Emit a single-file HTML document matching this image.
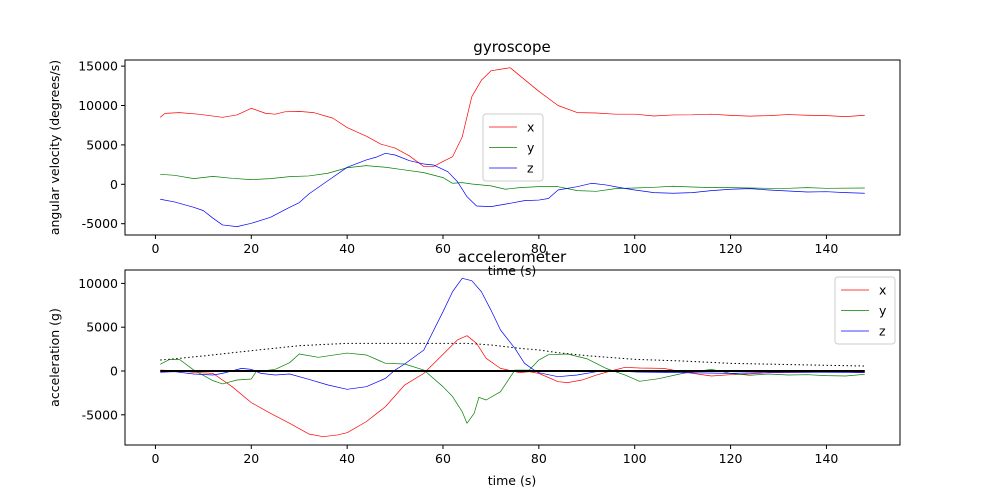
<!DOCTYPE html>
<html><head><meta charset="utf-8"><style>
body{margin:0;background:#fff;}
svg{display:block;font-family:"DejaVu Sans","Liberation Sans",sans-serif;}
</style></head><body>
<svg id="c" width="1000" height="500"></svg>
<script>
const gyroT=[1,2,5,9,14,17,20,23,25,27,30,33,37,40,44,47,50,53,56,58,60,62,64,66,68,70,72,74,76,80,84,88,92,96,100,104,108,112,116,120,124,128,132,136,140,144,148];
const gyroX=[8500,9000,9100,8900,8500,8800,9650,9000,8900,9200,9250,9100,8400,7200,6100,5100,4600,3600,2250,2250,2900,3500,6000,11100,13200,14400,14600,14800,13800,11800,10000,9100,9050,8900,8900,8670,8800,8820,8900,8750,8650,8720,8850,8760,8720,8590,8760];
const gyroYT=[1,4,8,12,16,20,24,28,32,36,40,44,48,52,56,60,62,64,66,70,73,76,80,84,88,92,96,100,104,108,112,116,120,124,128,132,136,140,148];
const gyroY=[1270,1140,720,1010,760,590,720,970,1060,1400,2100,2370,2160,1820,1480,850,130,210,40,-200,-630,-420,-300,-300,-800,-890,-550,-470,-380,-250,-340,-420,-420,-470,-510,-510,-420,-510,-470];
const gyroZT=[1,4,8,10,12,14,17,20,24,28,30,32,36,40,44,46,48,50,53,56,58,61,63,65,67,70,74,77,80,82,84,88,91,94,97,100,104,108,112,116,120,124,128,132,136,140,144,148];
const gyroZ=[-1900,-2240,-2920,-3340,-4300,-5160,-5370,-4950,-4190,-2920,-2330,-1230,470,2160,3090,3430,3930,3720,3000,2580,2450,1600,340,-1570,-2750,-2830,-2410,-2070,-2000,-1800,-720,-300,130,-80,-420,-720,-1060,-1140,-1060,-800,-630,-550,-720,-850,-980,-940,-1060,-1140];
const accXT=[1,4,8,12,16,20,24,28,32,35,38,40,44,48,52,56,60,63,65,67,69,72,76,78,80,84,86,89,92,95,98,101,106,110,116,120,124,128,136,144,148];
const accX=[110,40,-150,-270,-1790,-3610,-4830,-5970,-7190,-7500,-7300,-7040,-5780,-4070,-1600,-270,1900,3540,4030,3160,1450,300,-190,-80,-270,-1220,-1330,-1030,-460,0,420,340,300,-100,-570,-420,-340,-190,-150,-80,-190];
const accYT=[1,3,5,8,12,14,17,20,21,25,28,30,34,40,44,48,52,56,60,62,64,65,66.5,67.5,69,72,75,78,80,82,86,90,94,98,101,105,110,116,120,124,128,132,136,140,144,148];
const accY=[760,1330,1330,110,-1100,-1480,-1030,-910,-80,190,950,1940,1560,2050,1830,875,800,110,-1790,-2930,-4640,-5970,-4830,-3000,-3310,-2360,110,110,1250,1860,1940,1400,300,-460,-1180,-875,-270,190,-270,-490,-340,-460,-420,-530,-570,-380];
const accZT=[1,4,8,12,14,18,20,22,25,28,32,36,40,44,48,50,52,56,60,62,64,66,68,70,72,75,77,79,80,84,88,92,96,100,110,120,130,140,148];
const accZ=[-150,-80,-340,-460,-270,300,190,-270,-460,-340,-950,-1600,-2090,-1790,-840,110,800,2400,6770,9060,10580,10310,9060,6960,4680,2590,875,110,-190,-650,-460,-80,0,-110,-190,-270,-150,-150,-190];
const accMT=[1,5,10,20,30,40,50,60,65,70,76,80,84,90,100,110,120,130,140,148];
const accM=[1250,1450,1720,2320,2890,3160,3160,3160,3160,2970,2590,2400,2090,1750,1330,1140,875,760,650,570];
const xTicks=[0,20,40,60,80,100,120,140];
const gyroTicks=[-5000,0,5000,10000,15000];
const accTicks=[-5000,0,5000,10000];

const NS="http://www.w3.org/2000/svg";
const svg=document.getElementById('c');
function mk(tag,attrs,parent){const e=document.createElementNS(NS,tag);for(const k in attrs)e.setAttribute(k,attrs[k]);(parent||svg).appendChild(e);return e;}
const L=125,R=900;
const sx=t=>L+(t+6.35)*775/161.7;

function panel(top,bot,y0px,perUnit,ticks,title,ylab,series,legend,name){
  const g=mk('g',{});
  
  
  const sy=v=>y0px-v*perUnit;
  series.forEach(s=>{
    const d=s.t.map((t,i)=>(i?'L':'M')+sx(t).toFixed(2)+','+sy(s.v[i]).toFixed(2)).join('');
    const p=mk('path',{d:d,fill:'none',stroke:s.c,'stroke-width':s.w,'stroke-dasharray':s.dash||'none','stroke-linejoin':'round'},g);
    
    
  });
  const f=mk('rect',{x:L,y:top,width:R-L,height:bot-top,fill:'none',stroke:'#000','stroke-width':1},g);
  
  
  xTicks.forEach(t=>{
    const x=sx(t);
    mk('line',{x1:x,x2:x,y1:bot,y2:bot+4,stroke:'#000'},g);
    const tx=mk('text',{x:x,y:bot+18,'text-anchor':'middle','font-size':12.5},g);tx.textContent=t;
    
    
  });
  ticks.forEach(v=>{
    const y=sy(v);
    mk('line',{x1:L-4,x2:L,y1:y,y2:y,stroke:'#000'},g);
    const tx=mk('text',{x:L-7,y:y+4.5,'text-anchor':'end','font-size':12.5},g);tx.textContent=v;
    
    
  });
  const tt=mk('text',{x:512,y:top-8,'text-anchor':'middle','font-size':15},g);tt.textContent=title;
  
  
  const xl=mk('text',{x:512,y:bot+40,'text-anchor':'middle','font-size':12.5},g);xl.textContent='time (s)';
  
  
  const yc=(top+bot)/2;
  const yl=mk('text',{x:0,y:0,'text-anchor':'middle','font-size':12.5,transform:`translate(59,${yc}) rotate(-90)`},g);yl.textContent=ylab;
  
  
  const lg=mk('g',{},g);
  
  
  mk('rect',{x:legend.x,y:legend.y,width:60,height:67,rx:3,fill:'#fff','fill-opacity':0.8,stroke:'#ccc'},lg);
  [['x','red'],['y','green'],['z','blue']].forEach((e,i)=>{
    const yy=legend.y+13+i*20.5;
    mk('line',{x1:legend.x+6,x2:legend.x+34,y1:yy,y2:yy,stroke:e[1],'stroke-width':0.8},lg);
    const t=mk('text',{x:legend.x+44,y:yy+4.5,'font-size':12.5},lg);t.textContent=e[0];
    
    
  });
}
panel(60,235,184.3,39.4/5000,gyroTicks,'gyroscope','angular velocity (degrees/s)',[
  {t:gyroT,v:gyroX,c:'red',w:0.7,n:'gyro-x-line'},
  {t:gyroYT,v:gyroY,c:'green',w:0.7,n:'gyro-y-line'},
  {t:gyroZT,v:gyroZ,c:'blue',w:0.7,n:'gyro-z-line'}],{x:483,y:114},'gyroscope-panel');
panel(270,445,371,43.8/5000,accTicks,'accelerometer','acceleration (g)',[
  {t:accXT,v:accX,c:'red',w:0.7,n:'acc-x-line'},
  {t:accYT,v:accY,c:'green',w:0.7,n:'acc-y-line'},
  {t:accZT,v:accZ,c:'blue',w:0.7,n:'acc-z-line'},
  {t:[1,148],v:[0,0],c:'#000',w:2,n:'zero-line'},
  {t:accMT,v:accM,c:'#000',w:1,dash:'1.5,2.5',n:'magnitude-dotted-line'}],{x:835,y:277},'accelerometer-panel');
</script>
</body></html>
